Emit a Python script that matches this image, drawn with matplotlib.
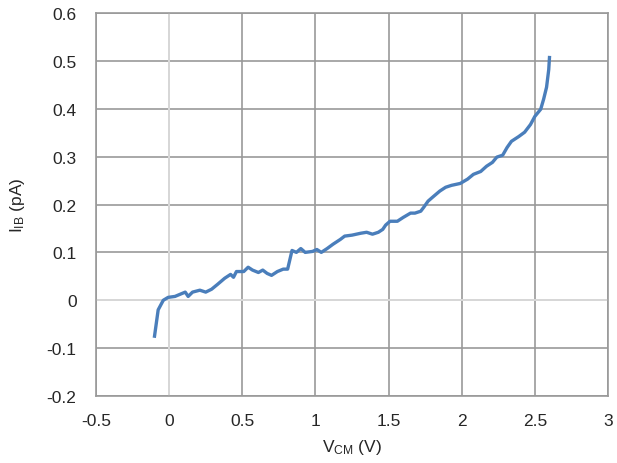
import numpy as np
import matplotlib.pyplot as plt

plt.rcParams['font.family'] = ['Liberation Sans', 'DejaVu Sans']
plt.rcParams['mathtext.default'] = 'regular'

# Input bias current vs common-mode voltage
v_cm = [-0.10, -0.075, -0.04, -0.007, 0.04, 0.11, 0.13, 0.16, 0.21, 0.25, 0.29, 0.33,
        0.38, 0.42, 0.44, 0.46, 0.51, 0.54, 0.57, 0.61, 0.64, 0.67, 0.70, 0.74, 0.78,
        0.81, 0.84, 0.87, 0.90, 0.93, 0.98, 1.01, 1.04, 1.08, 1.12, 1.17, 1.20, 1.25,
        1.31, 1.35, 1.39, 1.43, 1.46, 1.48, 1.51, 1.56, 1.60, 1.65, 1.68, 1.72, 1.74,
        1.77, 1.80, 1.85, 1.89, 1.93, 1.99, 2.04, 2.08, 2.13, 2.17, 2.21, 2.24, 2.28,
        2.31, 2.34, 2.39, 2.43, 2.47, 2.50, 2.54, 2.56, 2.58, 2.595, 2.60]
i_ib = [-0.075, -0.02, 0.0, 0.006, 0.008, 0.017, 0.008, 0.017, 0.021, 0.017, 0.023, 0.033,
        0.046, 0.054, 0.048, 0.060, 0.060, 0.069, 0.063, 0.058, 0.063, 0.056, 0.052, 0.060,
        0.065, 0.065, 0.104, 0.100, 0.108, 0.100, 0.102, 0.106, 0.100, 0.108, 0.117, 0.127,
        0.134, 0.136, 0.140, 0.142, 0.138, 0.142, 0.148, 0.157, 0.165, 0.165, 0.173, 0.182,
        0.182, 0.186, 0.194, 0.207, 0.215, 0.228, 0.236, 0.240, 0.244, 0.253, 0.263, 0.269,
        0.280, 0.288, 0.299, 0.303, 0.319, 0.332, 0.342, 0.351, 0.367, 0.384, 0.399, 0.420,
        0.445, 0.482, 0.507]

fig = plt.figure(figsize=(6.17, 4.64), dpi=100)
ax = fig.add_axes([0.1556, 0.1444, 0.8298, 0.8254])

ax.set_xlim(-0.5, 3)
ax.set_ylim(-0.2, 0.6)
ax.set_xticks(np.arange(-0.5, 3.01, 0.5))
ax.set_yticks(np.arange(-0.2, 0.61, 0.1))
ax.set_xticklabels(['-0.5', '0', '0.5', '1', '1.5', '2', '2.5', '3'])
ax.set_yticklabels(['-0.2', '-0.1', '0', '0.1', '0.2', '0.3', '0.4', '0.5', '0.6'])

ax.grid(True, color='#999999', linewidth=1.2)
ax.axvline(0, color='#d9d9d9', linewidth=1.4, zorder=1.5)
ax.axhline(0, color='#d9d9d9', linewidth=1.4, zorder=1.5)
ax.set_axisbelow(True)
for s in ax.spines.values():
    s.set_color('#999999')
    s.set_linewidth(1.2)
ax.tick_params(axis='y', length=0, labelsize=12.5, colors='#262626', pad=14)
ax.tick_params(axis='x', length=0, labelsize=12.5, colors='#262626', pad=12)

ax.plot(v_cm, i_ib, color='#4a7ebb', linewidth=2.4, zorder=3)

ax.set_xlabel('V$_{CM}$ (V)', fontsize=12.5, color='#262626', labelpad=7)
ax.set_ylabel('I$_{IB}$ (pA)', fontsize=12.5, color='#262626', labelpad=14)

fig.savefig('out.png', dpi=100)
